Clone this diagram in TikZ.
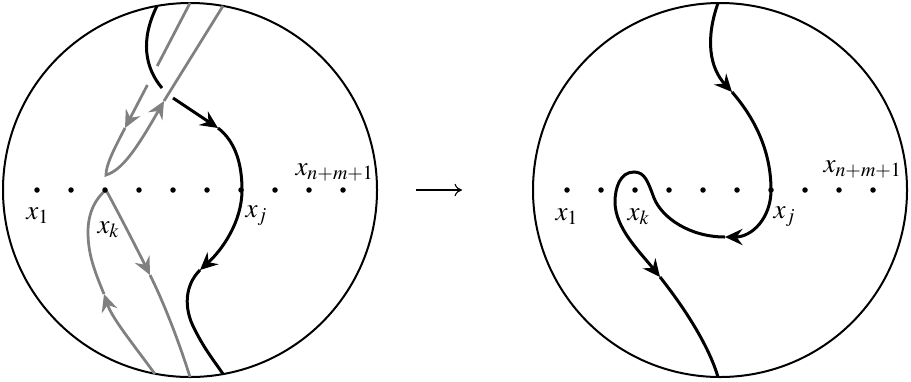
\documentclass[tikz,border=0pt]{standalone}
\usepackage{mathptmx}
\usetikzlibrary{arrows.meta}
\begin{document}
\begin{tikzpicture}[x=0.4pt,y=-0.4pt,
  disk/.style={draw, circle, minimum size=149.6pt, inner sep=0pt, line width=0.8pt},
  blk/.style={line width=1.2pt, black},
  gry/.style={line width=1.1pt, color=gray},
  tipb/.style={-{Stealth[length=7pt,width=6.5pt,inset=2.4pt]}},
  dotn/.style={circle, fill=black, inner sep=0pt, minimum size=2.2pt},
  lab/.style={anchor=base west, inner sep=0pt, font=\fontsize{10.8}{12}\selectfont}]
\useasboundingbox (0,0) rectangle (911,381);
% disks
\node[disk] (D1) at (190,190) {};
\node[disk] (D2) at (720,190) {};
% left picture: grey curves
\draw[gry] (190,3) -- (157.2,66);
\draw[gry,tipb] (147.4,85) -- (125,128);
\draw[gry,tipb] (125,128) .. controls (113,151) and (106,165) .. (106,175)
   .. controls (122,170) and (136,150) .. (164,101);
\draw[gry] (164,101) -- (223,6);
\coordinate (G1) at (155,374);
\coordinate (G2) at (190,377);
\draw[gry,tipb] (G1) .. controls (130,340) and (112,318) .. (104,294);
\draw[gry] (104,294) .. controls (95,272) and (88,255) .. (88,232)
   .. controls (88,212) and (96,198) .. (106,190);
\draw[gry,tipb] (106,190) .. controls (118,212) and (135,245) .. (150,275);
\draw[gry] (150,275) .. controls (165,305) and (180,345) .. (G2);
% left picture: black curve
\coordinate (B1) at (157,6);
\coordinate (B2) at (223,374);
\draw[blk] (B1) .. controls (140,40) and (145,68) .. (162,88);
\draw[blk,tipb] (173,98) -- (218,128);
\draw[blk] (218,128) .. controls (236,142) and (242,165) .. (242,190);
\draw[blk,tipb] (242,190) .. controls (242,222) and (222,250) .. (200,270);
\draw[blk] (200,270) .. controls (185,285) and (183,308) .. (195,330)
   .. controls (205,350) and (215,362) .. (B2);
% right picture: black curve
\coordinate (C1) at (718,3);
\coordinate (C2) at (718,377);
\draw[blk,tipb] (C1) .. controls (705,40) and (710,68) .. (732,92);
\draw[blk] (732,92) .. controls (758,122) and (771,155) .. (771,190);
\draw[blk,tipb] (771,190) .. controls (771,218) and (752,237) .. (725,237);
\draw[blk] (725,237) .. controls (690,237) and (662,218) .. (654,198)
   .. controls (648,182) and (645,172) .. (634,172)
   .. controls (620,172) and (615,188) .. (615,202);
\draw[blk,tipb] (615,202) .. controls (615,228) and (640,252) .. (660,277);
\draw[blk] (660,277) .. controls (690,315) and (710,350) .. (C2);
% dots
\foreach \i in {0,...,9} {
  \node[dotn] (L\i) at ({37+34*\i},190) {};
  \node[dotn] (R\i) at ({567+34*\i},190) {};
}
% labels
\node[lab] (l1) at (26,219.5) {$x_1$};
\node[lab] (lk) at (97,233) {$x_k$};
\node[lab] (lj) at (245,217) {$x_j$};
\node[lab] (ln) at (295,175) {$x_{n+m+1}$};
\node[lab] (r1) at (555,220) {$x_1$};
\node[lab] (rk) at (627,220) {$x_k$};
\node[lab] (rj) at (773,218) {$x_j$};
\node[lab] (rn) at (823,172) {$x_{n+m+1}$};
% middle arrow
\coordinate (A1) at (416,190);
\coordinate (A2) at (462,190);
\draw[line width=0.45pt,-{To[length=3pt,width=5pt]}] (A1) -- (A2);
\end{tikzpicture}
\end{document}
